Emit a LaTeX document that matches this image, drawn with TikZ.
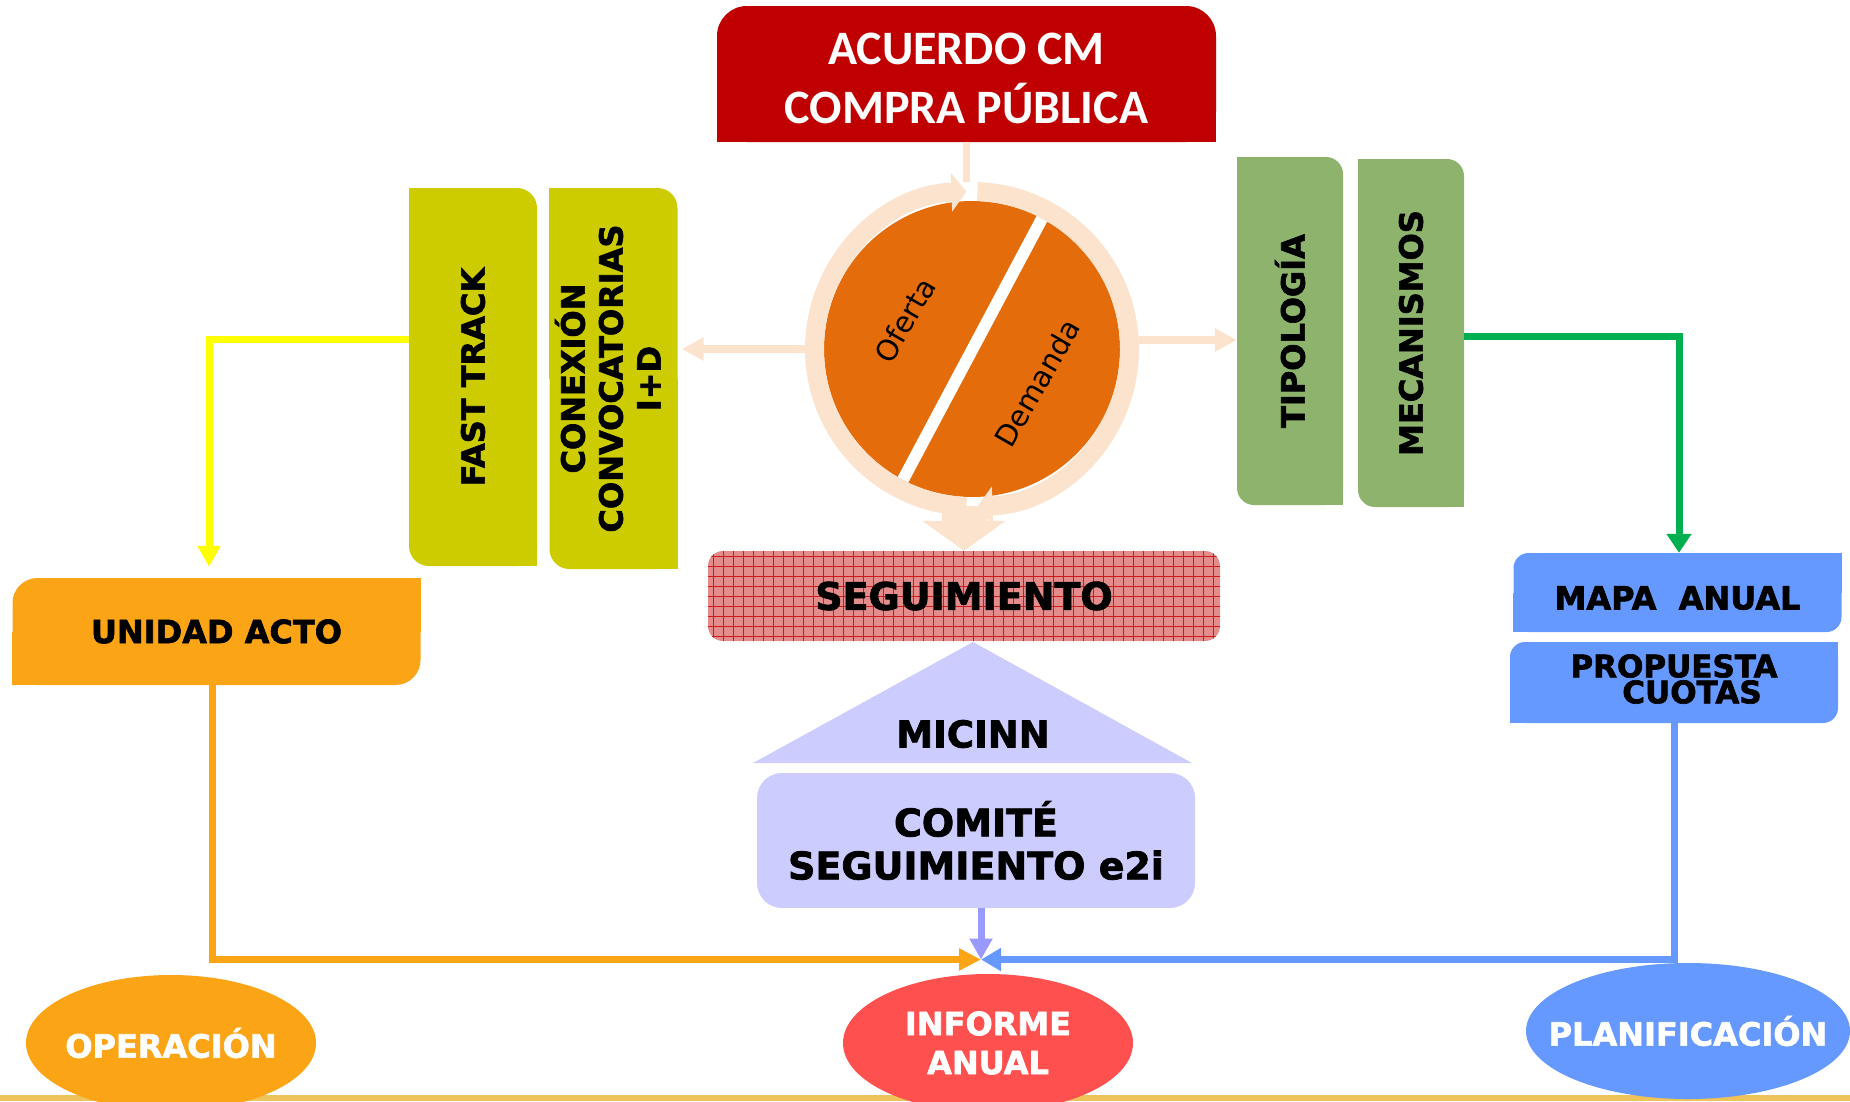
\documentclass[tikz,border=0pt]{standalone}
\usepackage{fontspec}
\setmainfont{DejaVu Sans}[BoldFeatures={FakeBold=2}]
\newfontfamily\acufont{Carlito}
\usetikzlibrary{arrows.meta,shapes.geometric,backgrounds}

\definecolor{acured}{RGB}{192,0,0}
\definecolor{fastyellow}{RGB}{204,204,0}
\definecolor{tipogreen}{RGB}{142,179,108}
\definecolor{linegreen}{RGB}{0,176,80}
\definecolor{lineyellow}{RGB}{255,255,0}
\definecolor{actorange}{RGB}{251,165,22}
\definecolor{planblue}{RGB}{102,153,255}
\definecolor{lavender}{RGB}{204,204,255}
\definecolor{lavarrow}{RGB}{153,153,255}
\definecolor{informered}{RGB}{255,80,80}
\definecolor{peach}{RGB}{252,227,205}
\definecolor{discorange}{RGB}{228,108,10}
\definecolor{seguipink}{RGB}{228,140,140}
\definecolor{seguired}{RGB}{205,25,25}
\definecolor{bandgold}{RGB}{237,195,90}

\tikzset{
  boxtext/.style={rectangle, inner sep=0pt, font=\bfseries\fontsize{32}{38}\selectfont},
  fastbox/.style={boxtext, fill=fastyellow, rounded corners=20pt, minimum width=128pt, minimum height=378pt},
  tipobox/.style={boxtext, fill=tipogreen, rounded corners=17pt, minimum width=106pt, minimum height=348pt},
  mapabox/.style={boxtext, fill=planblue, rounded corners=15pt, minimum width=328pt, minimum height=80pt},
  oval/.style={ellipse, inner sep=0pt},
  ovaltext/.style={text=white, align=center, font=\bfseries\fontsize{32}{39}\selectfont},
  discword/.style={rotate=60, font=\fontsize{29}{35}\selectfont},
  link/.style={line width=7pt},
}

\begin{document}
\begin{tikzpicture}[x=1pt,y=1pt]
\useasboundingbox (0,0) rectangle (1850,-1101);

% golden band at the bottom
\fill[bandgold] (0,-1095) rectangle (1850,-1101);

% boxes
\node[boxtext, fill=acured, rounded corners=30pt, minimum width=499pt, minimum height=136pt,
  label={[text=white, align=center, yshift=-4.5pt, font=\acufont\bfseries\fontsize{48}{59}\selectfont]center:ACUERDO CM\\COMPRA PÚBLICA}] (acuerdo) at (966.5,-74) {};
\node[fastbox] (fast) at (473,-377) {\rotatebox{90}{FAST TRACK}};
\node[fastbox, minimum height=381pt] (conex) at (613.5,-378.5)
  {\rotatebox{90}{\begin{tabular}{@{}c@{}}CONEXIÓN\\CONVOCATORIAS\\I+D\end{tabular}}};
\node[tipobox] (tipo) at (1290,-331) {\rotatebox{90}{TIPOLOGÍA}};
\node[tipobox] (meca) at (1411,-333) {\rotatebox{90}{MECANISMOS}};
\node[boxtext, fill=actorange, rounded corners=25pt, minimum width=408pt, minimum height=107pt] (unidad) at (216.5,-631.5) {UNIDAD ACTO};
\node[boxtext, fill=seguipink, rounded corners=15pt, minimum width=512pt, minimum height=90pt,
  font=\bfseries\fontsize{38}{44}\selectfont,
  path picture={
    \foreach \k in {5,15,...,515}
      \draw[seguired, line width=1pt] ([xshift=\k]path picture bounding box.north west) -- ([xshift=\k]path picture bounding box.south west);
    \foreach \k in {5,15,...,95}
      \draw[seguired, line width=1pt] ([yshift=-\k]path picture bounding box.north west) -- ([yshift=-\k]path picture bounding box.north east);
  }] (segui) at (964,-596) {SEGUIMIENTO};
\fill[lavender] (753,-763) -- (973,-642) -- (1192,-763) -- cycle;
\node[font=\bfseries\fontsize{37}{44}\selectfont] (micinn) at (973,-734) {MICINN};
\node[boxtext, fill=lavender, rounded corners=25pt, minimum width=438pt, minimum height=135pt, align=center,
  font=\bfseries\fontsize{38}{43}\selectfont] (comite) at (976,-840.5) {COMITÉ\\SEGUIMIENTO e2i};
\node[mapabox, minimum height=79pt,
  label={[boxtext, yshift=-5.5pt]center:MAPA\hspace{0.35em} ANUAL}] (mapa) at (1677.5,-592.5) {};
\node[mapabox, minimum height=81pt,
  label={[boxtext, align=center, yshift=3.5pt, font=\bfseries\fontsize{31}{26}\selectfont]center:PROPUESTA\\\hspace*{36pt}CUOTAS}] (cuotas) at (1674,-682.5) {};

% ovals
\node[oval, fill=actorange, minimum width=290pt, minimum height=136pt, label={[ovaltext]center:OPERACIÓN}] (oper) at (171,-1043) {};
\node[oval, fill=informered, minimum width=290pt, minimum height=138pt, label={[ovaltext]center:INFORME\\ANUAL}] (informe) at (988,-1043) {};
\node[oval, fill=planblue, minimum width=324pt, minimum height=136pt, label={[ovaltext]center:PLANIFICACIÓN}] (plan) at (1688,-1031) {};

% square corners
\begin{scope}[on background layer]
  \foreach \n/\c in {fast/fastyellow, conex/fastyellow, tipo/tipogreen, meca/tipogreen} {
    \fill[\c] (\n.north west) rectangle (\n.center);
    \fill[\c] (\n.south east) rectangle (\n.center);
  }
  \foreach \n/\c in {unidad/actorange, mapa/planblue, cuotas/planblue} {
    \fill[\c] (\n.north east) rectangle (\n.center);
    \fill[\c] (\n.south west) rectangle (\n.center);
  }
  \fill[acured] (acuerdo.south west) rectangle (acuerdo.east);
\end{scope}

% oferta / demanda disc
\coordinate (meet) at (981,-959.5);
\node[circle, inner sep=0pt, minimum size=334pt] (ring) at (972,-349) {};
\draw[peach, link] (acuerdo.south) -- (acuerdo.south |- ring.north);
\draw[peach, line width=45pt, -{Triangle[length=30pt,width=82pt]}] ([yshift=10pt]segui.north |- ring.south) -- (segui.north);
\node[circle, inner sep=0pt, minimum size=296pt, fill=discorange] (disc) at (ring.center) {};
\begin{scope}
  \clip (disc.center) circle[radius=148];
  \draw[white, line width=12pt] (1054,-196) -- (889,-506);
\end{scope}
\draw[peach, line width=19pt, -{Triangle[length=15pt,width=38pt]}] ([shift={(-92:157.5)}]disc.center) arc[start angle=-92, end angle=-268, radius=157.5];
\draw[peach, line width=19pt, -{Triangle[length=15pt,width=38pt]}] ([shift={(88:157.5)}]disc.center) arc[start angle=88, end angle=-88, radius=157.5];
\node[discword] (oferta) at (905,-320) {Oferta};
\node[discword] (demanda) at (1037,-383) {Demanda};
\draw[peach, line width=8pt, -{Triangle[length=22pt,width=22pt]}] (ring.west) -- ([xshift=4pt]conex.east |- ring.west);
\draw[peach, line width=8pt, -{Triangle[length=22pt,width=22pt]}] ([yshift=9pt]ring.east) -- ([yshift=9pt]ring.east -| tipo.west);

% connectors
\draw[link, lineyellow, -{Triangle[length=21pt,width=22pt]}, shorten >=11pt] ([yshift=37.5pt]fast.west) -| ([xshift=-7.5pt]unidad.north);
\draw[link, linegreen, -{Triangle[length=19pt,width=24pt]}] ([yshift=-3pt]meca.east) -| ([xshift=1.5pt]mapa.north);
\draw[link, actorange, -{Triangle[length=22pt,width=21pt]}] ([xshift=-4.5pt]unidad.south) |- (meet);
\draw[link, planblue, -{Triangle[length=20pt,width=22pt]}] (cuotas.south) |- (meet);
\draw[link, lavarrow, -{Triangle[length=21pt,width=22pt]}] (comite.south -| meet) -- (meet);
\end{tikzpicture}
\end{document}
